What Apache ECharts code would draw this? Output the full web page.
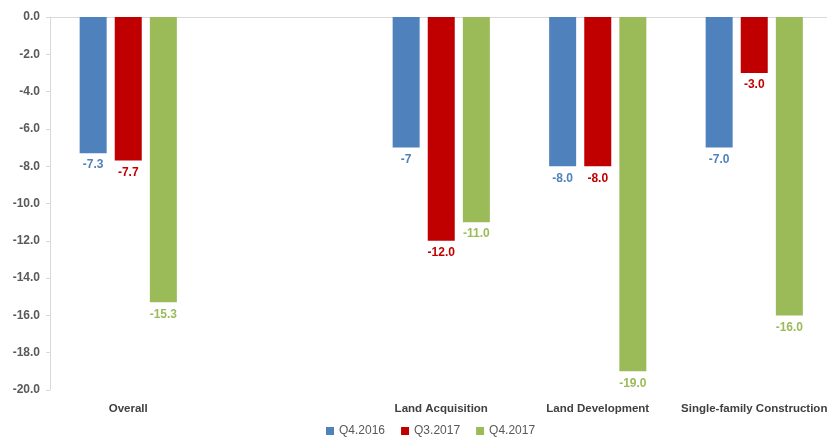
<!DOCTYPE html>
<html>
<head>
<meta charset="utf-8">
<script src="https://cdn.jsdelivr.net/npm/echarts@6/dist/echarts.min.js"></script>
<style>html,body{margin:0;padding:0;background:#fff;overflow:hidden;width:827px;height:438px;}#c{width:840px;height:438px;}</style>
</head>
<body>
<div id="c"></div>
<script>
const categories = ["Overall", "", "Land Acquisition", "Land Development", "Single-family Construction"];
const seriesNames = ["Q4.2016", "Q3.2017", "Q4.2017"];
const q42016 = [-7.3, null, -7, -8.0, -7.0];
const q32017 = [-7.7, null, -12.0, -8.0, -3.0];
const q42017 = [-15.3, null, -11.0, -19.0, -16.0];
const q42016Labels = ["-7.3", "", "-7", "-8.0", "-7.0"];
const q32017Labels = ["-7.7", "", "-12.0", "-8.0", "-3.0"];
const q42017Labels = ["-15.3", "", "-11.0", "-19.0", "-16.0"];
const colors = ["#4F81BD", "#C00000", "#9BBB59"];
const FONT = "'Liberation Sans', Arial, sans-serif";

function mk(name, vals, labels, color) {
  return {
    name: name, type: 'bar', xAxisIndex: 0, yAxisIndex: 0,
    data: vals, barWidth: 27, barGap: '30%',
    itemStyle: { color: color },
    label: {
      show: true, position: 'bottom', distance: 6,
      color: color, fontFamily: FONT, fontSize: 12, fontWeight: 'bold',
      formatter: p => labels[p.dataIndex]
    }
  };
}

const chart = echarts.init(document.getElementById('c'), null, { renderer: 'canvas', width: 840, height: 438 });
chart.setOption({
  animation: false,
  color: colors,
  grid: { left: 50, top: 17, width: 782.5, height: 373, containLabel: false },
  xAxis: [
    {
      type: 'category', data: categories, position: 'bottom',
      axisLine: { show: false }, axisTick: { show: false },
      axisLabel: { color: '#404040', fontFamily: FONT, fontSize: 11.5, fontWeight: 'bold', margin: 13, interval: 0 }
    },
    {
      type: 'category', data: categories, position: 'top',
      axisLine: { show: true, onZero: false, lineStyle: { color: '#D9D9D9' } },
      axisTick: { show: false }, axisLabel: { show: false }
    }
  ],
  yAxis: {
    type: 'value', min: -20, max: 0, interval: 2,
    axisLine: { show: true, lineStyle: { color: '#D9D9D9' } },
    axisTick: { show: true, length: 4, lineStyle: { color: '#D9D9D9' } },
    splitLine: { show: false },
    axisLabel: { color: '#595959', fontFamily: FONT, fontSize: 12, fontWeight: 'bold', margin: 10, formatter: v => v.toFixed(1) }
  },
  legend: {
    top: 420, left: 321, itemWidth: 8, itemHeight: 8, itemGap: 16,
    icon: 'rect',
    textStyle: { color: '#595959', fontFamily: FONT, fontSize: 12 },
    data: seriesNames
  },
  series: [
    mk(seriesNames[0], q42016, q42016Labels, colors[0]),
    mk(seriesNames[1], q32017, q32017Labels, colors[1]),
    mk(seriesNames[2], q42017, q42017Labels, colors[2])
  ]
});
</script>
</body>
</html>
